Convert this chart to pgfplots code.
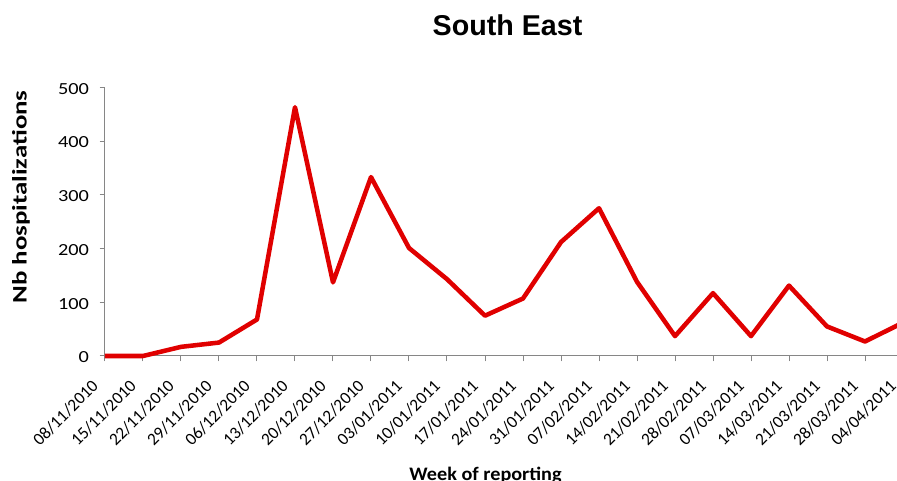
\documentclass[border=0pt]{standalone}
\usepackage{pgfplots}
\pgfplotsset{compat=1.18}
\usepackage{fontspec}
\setmainfont{Carlito}
\newfontfamily\titlefont{Liberation Sans}

\definecolor{linered}{RGB}{224,0,0}
\definecolor{axisgray}{RGB}{134,134,134}

\pgfplotstableread{
x y
0 0
1 0
2 17
3 25
4 68
5 463
6 137
7 333
8 201
9 143
10 75
11 107
12 212
13 275
14 138
15 37
16 117
17 37
18 131
19 55
20 27
21 62
}\southeast

\begin{document}
\begin{tikzpicture}
\begin{axis}[
    at={(0,0)}, anchor=south west,
    scale only axis,
    width=598.5pt, height=201.5pt,
    xmin=0, xmax=21, ymin=0, ymax=500,
    axis x line=bottom, axis y line=left,
    axis line style={-, draw=axisgray, line width=0.75pt},
    tick style={draw=axisgray, line width=0.75pt},
    tick align=outside,
    major tick length=4pt,
    xtick={0,...,21},
    xticklabels={08/11/2010,15/11/2010,22/11/2010,29/11/2010,06/12/2010,13/12/2010,20/12/2010,27/12/2010,03/01/2011,10/01/2011,17/01/2011,24/01/2011,31/01/2011,07/02/2011,14/02/2011,21/02/2011,28/02/2011,07/03/2011,14/03/2011,21/03/2011,28/03/2011,04/04/2011},
    ytick={0,100,...,500},
    xticklabel style={font=\fontsize{13}{15}\selectfont, xshift=-5pt, yshift=-14pt, rotate=45, anchor=east},
    yticklabel style={font=\fontsize{12.7}{15}\selectfont\addfontfeature{FakeStretch=1.2}, anchor=east, xshift=-4.5pt, yshift=-1pt},
    /pgf/number format/assume math mode=true,
    clip=false,
]
\addplot[linered, line width=3.4pt, line join=round] table[x=x, y=y] {\southeast};
\end{axis}
\node[anchor=base, font=\titlefont\bfseries\fontsize{21.5}{26}\selectfont] at (301.9pt,240pt) {South East};
\node[anchor=base, rotate=90, font=\bfseries\fontsize{15.5}{18}\selectfont\addfontfeature{FakeStretch=1.3}] at (-58.7pt,119.25pt) {Nb hospitalizations};
\node[anchor=base, font=\bfseries\fontsize{14.3}{17}\selectfont\addfontfeature{FakeStretch=1.06}] at (285.4pt,-93.5pt) {Week of reporting};
\pgfresetboundingbox
\path[use as bounding box] (-78.75pt,-93.75pt) rectangle (594pt,267pt);
\end{tikzpicture}
\end{document}
